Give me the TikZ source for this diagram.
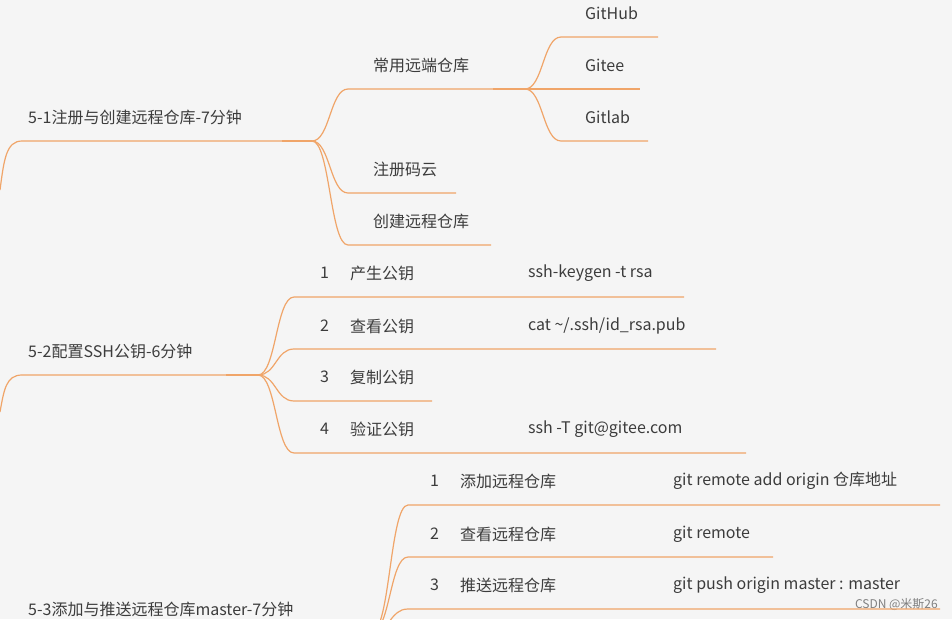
\documentclass[tikz,border=0pt]{standalone}
\usepackage{fontspec}
\setmainfont{Noto Sans CJK SC}
\usetikzlibrary{calc}
\definecolor{branchorange}{RGB}{240,165,105}
\definecolor{bggray}{RGB}{245,245,245}
\definecolor{textgray}{RGB}{60,60,60}
% curved link from a fork to a horizontal underline
\newcommand{\twig}[2]{\draw[edge] (#1) .. controls ($(#1)+(18,0)$) and ($(#1|-#2)+(18,0)$) .. ($(#1|-#2)+(36,0)$) -- (#2);}

\begin{document}
\begin{tikzpicture}[x=1pt,y=-1pt]
\tikzstyle{txt}=[anchor=west, inner sep=0, text=textgray, font=\fontsize{16}{18}\selectfont]
\tikzstyle{edge}=[draw=branchorange, line width=1.2pt]
\tikzstyle{trunk}=[draw=branchorange, line width=2.4pt]

	\fill[bggray] (0,0) rectangle (952,619);
	\useasboundingbox (0,0) rectangle (952,619);

	%coordinates
	\coordinate (r1) at (312,141);
	\coordinate (f1) at (525,89);
	\coordinate (r2) at (258,375);
	\coordinate (r3) at (372,632);
	\coordinate (gh) at (658,37);
	\coordinate (ge) at (640,89);
	\coordinate (gl) at (648,141);
	\coordinate (zc) at (456,193);
	\coordinate (cj) at (491,245);
	\coordinate (s1) at (684,297);
	\coordinate (s2) at (716,349);
	\coordinate (s3) at (432,401);
	\coordinate (s4) at (746,453);
	\coordinate (p1) at (940,505);
	\coordinate (p2) at (773,557);
	\coordinate (p3) at (940,609);

	%texts
	\node[txt] (t51) at (28,117) {5-1注册与创建远程仓库-7分钟};
	\node[txt] (tcy) at (373,65) {常用远端仓库};
	\node[txt] (tgh) at (585,13) {GitHub};
	\node[txt] (tge) at (585,65) {Gitee};
	\node[txt] (tgl) at (585,117) {Gitlab};
	\node[txt] (tzc) at (373,169) {注册码云};
	\node[txt] (tcj) at (373,221) {创建远程仓库};
	\node[txt] (t52) at (28,351) {5-2配置SSH公钥-6分钟};
	\node[txt] (k1) at (320,273) {1};
	\node[txt] (n1) at (350,273) {产生公钥};
	\node[txt] (c1) at (528,273) {ssh-keygen -t rsa};
	\node[txt] (k2) at (320,326) {2};
	\node[txt] (n2) at (350,326) {查看公钥};
	\node[txt] (c2) at (528,326) {cat \string~/.ssh/id\_rsa.pub};
	\node[txt] (k3) at (320,377) {3};
	\node[txt] (n3) at (350,377) {复制公钥};
	\node[txt] (k4) at (320,429) {4};
	\node[txt] (n4) at (350,429) {验证公钥};
	\node[txt] (c4) at (528,429) {ssh -T git@gitee.com};
	\node[txt] (t53) at (28,609) {5-3添加与推送远程仓库master-7分钟};
	\node[txt] (j1) at (430,481) {1};
	\node[txt] (m1) at (460,481) {添加远程仓库};
	\node[txt] (d1) at (673,481) {git remote add origin 仓库地址};
	\node[txt] (j2) at (430,534) {2};
	\node[txt] (m2) at (460,534) {查看远程仓库};
	\node[txt] (d2) at (673,534) {git remote};
	\node[txt] (j3) at (430,585) {3};
	\node[txt] (m3) at (460,585) {推送远程仓库};
	\node[txt] (d3) at (673,585) {git push origin master : master};
	\node[anchor=east, inner sep=0, text=gray, font=\fontsize{12}{13}\selectfont] (wm) at (938,604) {CSDN @米斯26};

	%paths
	\draw[edge] (0,190) .. controls (4,160) and (6,141) .. (22,141) -- (r1);
	\draw[trunk] ($(r1)+(-30,0)$) -- (r1);
	\draw[edge] (0,412) .. controls (4,390) and (6,375) .. (22,375) -- (r2);
	\draw[trunk] ($(r2)+(-32,0)$) -- (r2);
	\draw[trunk] ($(f1)+(-32,0)$) -- (f1);
	\twig{r1}{f1}
	\twig{r1}{zc}
	\twig{r1}{cj}
	\twig{f1}{gh}
	\draw[edge] (f1) -- (ge);
	\twig{f1}{gl}
	\twig{r2}{s1}
	\twig{r2}{s2}
	\twig{r2}{s3}
	\twig{r2}{s4}
	\twig{r3}{p1}
	\twig{r3}{p2}
	\twig{r3}{p3}
\end{tikzpicture}
\end{document}
